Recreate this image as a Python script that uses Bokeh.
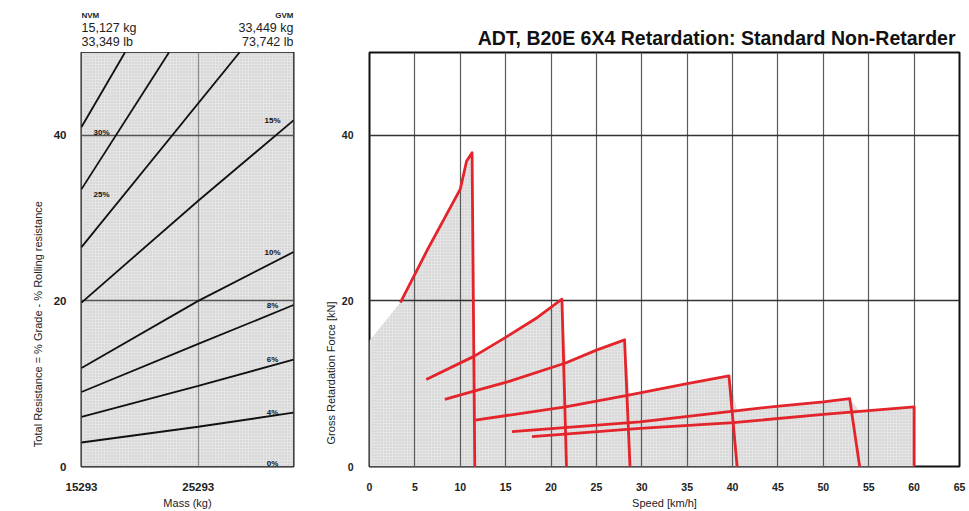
import numpy as np
from bokeh.plotting import figure
from bokeh.layouts import row, column
from bokeh.models import FixedTicker, Range1d, Label
from bokeh.core.properties import value
from bokeh.embed import file_html
from bokeh.resources import INLINE

# ---------------- left panel data ----------------
mass_min, mass_max = 15293, 33449
res_max = 50
mass_ticks = [15293, 25293]
res_ticks = [0, 20, 40]
nvm_text = ["NVM", "15,127 kg", "33,349 lb"]
gvm_text = ["GVM", "33,449 kg", "73,742 lb"]
left_ylabel = "Total Resistance = % Grade - % Rolling resistance"
left_xlabel = "Mass (kg)"

g30_mass = [15293, 19012]
g30_res = [41.0, 50.0]
g25_mass = [15293, 22782]
g25_res = [33.5, 50.0]
g20_mass = [15293, 28825]
g20_res = [26.5, 50.0]
g15_mass = [15293, 25293, 33449]
g15_res = [19.8, 32.1, 41.8]
g10_mass = [15293, 25293, 33449]
g10_res = [11.9, 20.0, 25.9]
g8_mass = [15293, 25293, 33449]
g8_res = [9.0, 14.8, 19.5]
g6_mass = [15293, 25293, 33449]
g6_res = [6.0, 9.75, 12.9]
g4_mass = [15293, 25293, 33449]
g4_res = [2.9, 4.8, 6.5]

grade_lines = [("30%", g30_mass, g30_res), ("25%", g25_mass, g25_res),
               ("", g20_mass, g20_res), ("15%", g15_mass, g15_res),
               ("10%", g10_mass, g10_res), ("8%", g8_mass, g8_res),
               ("6%", g6_mass, g6_res), ("4%", g4_mass, g4_res)]
zero_grade_label = "0%"

# ---------------- right panel data ----------------
speed_ticks = list(range(0, 70, 5))
force_ticks = [0, 20, 40]
title_text = "ADT, B20E 6X4 Retardation: Standard Non-Retarder"
right_ylabel = "Gross Retardation Force [kN]"
right_xlabel = "Speed [km/h]"

lead_speed = [0.0]
lead_force = [15.2]

gear1_speed = [3.4, 6.3, 10.0, 10.7, 11.3]
gear1_force = [19.8, 26.0, 33.5, 36.9, 37.9]
gear2_speed = [6.25, 11.5, 15.0, 18.5, 21.2]
gear2_force = [10.5, 13.3, 15.6, 18.0, 20.2]
gear3_speed = [8.3, 11.5, 15.0, 21.6, 25.0, 28.1]
gear3_force = [8.1, 9.1, 10.15, 12.5, 14.05, 15.3]
gear4_speed = [11.65, 21.6, 28.4, 35.0, 39.6]
gear4_force = [5.6, 7.2, 8.6, 10.0, 10.95]
gear5_speed = [15.7, 29.8, 40.1, 45.1, 50.0, 52.9]
gear5_force = [4.2, 5.4, 6.7, 7.3, 7.8, 8.2]
gear6_speed = [17.9, 29.8, 40.1, 50.0, 60.0]
gear6_force = [3.6, 4.6, 5.3, 6.3, 7.2]
drop_speed = [11.6, 21.7, 28.7, 40.5, 54.0, 60.0]

gears = [(gear1_speed, gear1_force), (gear2_speed, gear2_force),
         (gear3_speed, gear3_force), (gear4_speed, gear4_force),
         (gear5_speed, gear5_force), (gear6_speed, gear6_force)]

FONT = "Liberation Sans"
RED = "#e3242b"
FILL = "#e4e4e4"
TXT = "#222222"


def base_style(p, tick_size):
    p.outline_line_color = "#111111"
    p.outline_line_width = 2
    for ax in (p.xaxis[0], p.yaxis[0]):
        ax.axis_line_color = None
        ax.major_tick_line_color = None
        ax.minor_tick_line_color = None
        ax.major_label_text_font = FONT
        ax.major_label_text_font_style = "bold"
        ax.major_label_text_font_size = tick_size
        ax.major_label_text_color = TXT
        ax.axis_label_text_font = FONT
        ax.axis_label_text_font_style = "normal"
        ax.axis_label_text_font_size = "11px"
        ax.axis_label_text_color = TXT
    p.xaxis.major_label_standoff = 10
    p.yaxis.major_label_standoff = 9


def blank_fig(width, height, x_range, y_range, top=0, bottom=0, left=0, right=0):
    f = figure(width=width, height=height, output_backend="svg",
               toolbar_location=None, x_range=x_range, y_range=y_range,
               x_axis_location=None, y_axis_location=None,
               min_border_top=top, min_border_bottom=bottom,
               min_border_left=left, min_border_right=right)
    f.outline_line_color = None
    f.grid.visible = False
    f.background_fill_color = None
    f.border_fill_color = None
    return f


# ---------------- left figure ----------------
x_mass = Range1d(mass_min, mass_max)
y_res = Range1d(0, res_max)
pl = figure(width=270, height=459, output_backend="svg", toolbar_location=None,
            x_range=x_mass, y_range=y_res,
            min_border_left=29, min_border_right=27, min_border_top=0,
            min_border_bottom=40)
base_style(pl, "11.5px")
pl.background_fill_color = "white"
pl.quad(left=[mass_min], right=[mass_max], bottom=[0], top=[res_max],
        fill_color=FILL, line_color=None, hatch_pattern=".",
        hatch_color="#c4c4c4", hatch_scale=3, level="underlay")
pl.xaxis.ticker = FixedTicker(ticks=mass_ticks)
pl.yaxis.ticker = FixedTicker(ticks=res_ticks)
pl.xaxis.axis_label = left_xlabel
pl.xaxis.axis_label_standoff = 3
pl.xgrid.ticker = FixedTicker(ticks=[mass_ticks[1]])
pl.xgrid.grid_line_color = "#8a8a8a"
pl.xgrid.grid_line_width = 1.2
pl.ygrid.ticker = FixedTicker(ticks=[20, 40])
pl.ygrid.grid_line_color = "#555555"
pl.ygrid.grid_line_width = 1.5
pl.xgrid.level = "glyph"
pl.ygrid.level = "glyph"

lab_kw = dict(text_baseline="middle", text_font=FONT, text_font_size="8px",
              text_font_style="bold", text_color="#111111", text_align="center")
for lab, m, r in grade_lines:
    pl.line(m, r, line_color="#111111", line_width=1.8, level="annotation")
    if not lab:
        continue
    if m[-1] >= mass_max:
        pl.add_layout(Label(x=mass_max, y=r[-1], x_offset=-21, text=lab, **lab_kw))
    else:
        pl.add_layout(Label(x=mass_min, y=r[0], x_offset=20, y_offset=-5,
                            text=lab, **lab_kw))
pl.add_layout(Label(x=mass_max, y=0, x_offset=-21, y_offset=3,
                    text=zero_grade_label, **lab_kw))

# header above left panel (NVM / GVM)
head = blank_fig(270, 52, x_mass, Range1d(0, 52), left=29, right=27)
head_y = [37, 25, 11]
head_size = ["8px", "12.5px", "12.5px"]
head_style = ["bold", "normal", "normal"]
for i in range(3):
    head.text(x=[mass_min], y=[head_y[i]], text=[nvm_text[i]],
              text_align="left", text_baseline="middle",
              text_font=value(FONT), text_font_size=head_size[i],
              text_font_style=head_style[i], text_color=TXT)
    head.text(x=[mass_max], y=[head_y[i]], text=[gvm_text[i]],
              text_align="right", text_baseline="middle",
              text_font=value(FONT), text_font_size=head_size[i],
              text_font_style=head_style[i], text_color=TXT)

# side label for left panel
lside = blank_fig(50, 511, Range1d(0, 50), y_res, top=52, bottom=40)
lside.text(x=[37], y=[17.2], text=[left_ylabel], angle=np.pi / 2,
           text_align="center", text_baseline="middle",
           text_font=value(FONT), text_font_size="11px", text_color=TXT)

# ---------------- right figure ----------------
y_force = Range1d(0, 50)
pr = figure(width=631, height=511, output_backend="svg", toolbar_location=None,
            x_range=Range1d(0, 65), y_range=y_force,
            min_border_left=31, min_border_right=10, min_border_top=52,
            min_border_bottom=40)
base_style(pr, "10.5px")
pr.yaxis.major_label_standoff = 10
pr.title.text = title_text
pr.title.align = "right"
pr.title.offset = 4
pr.title.text_font = FONT
pr.title.text_font_size = "19.5px"
pr.title.text_font_style = "bold"
pr.title.text_color = "#111111"
pr.title.standoff = 8
pr.xaxis.ticker = FixedTicker(ticks=speed_ticks)
pr.yaxis.ticker = FixedTicker(ticks=force_ticks)
pr.xaxis.axis_label = right_xlabel
pr.xaxis.axis_label_standoff = 3
pr.xgrid.ticker = FixedTicker(ticks=speed_ticks[1:-1])
pr.xgrid.grid_line_color = "#5a5a5a"
pr.xgrid.grid_line_width = 1.2
pr.ygrid.ticker = FixedTicker(ticks=[20, 40])
pr.ygrid.grid_line_color = "#333333"
pr.ygrid.grid_line_width = 1.5
pr.xgrid.level = "glyph"
pr.ygrid.level = "glyph"

# envelope fill built from gear curves
env_x = [0.0] + list(lead_speed)
env_y = [0.0] + list(lead_force)
prev_drop = None
for i, (sx, fy) in enumerate(gears):
    if prev_drop is not None:
        env_x.append(prev_drop)
        env_y.append(float(np.interp(prev_drop, sx, fy)))
    for x, y in zip(sx, fy):
        if prev_drop is None or x > prev_drop:
            env_x.append(x)
            env_y.append(y)
    prev_drop = drop_speed[i]
env_x += [drop_speed[-1], 0.0]
env_y += [0.0, 0.0]
pr.patch(env_x, env_y, fill_color=FILL, line_color=None, hatch_pattern=".",
         hatch_color="#c4c4c4", hatch_scale=3, level="underlay")

for (sx, fy), d in zip(gears, drop_speed):
    pr.line(list(sx) + [d], list(fy) + [0], line_color=RED, line_width=2.8,
            line_join="round", level="annotation")

rside = blank_fig(18, 511, Range1d(0, 18), y_force, top=52, bottom=40)
rside.text(x=[10], y=[11.3], text=[right_ylabel], angle=np.pi / 2,
           text_align="center", text_baseline="middle",
           text_font=value(FONT), text_font_size="11px", text_color=TXT)

layout = row(lside, column(head, pl, spacing=0), rside, pr, spacing=0)
open("out.html", "w").write(file_html(layout, INLINE))
